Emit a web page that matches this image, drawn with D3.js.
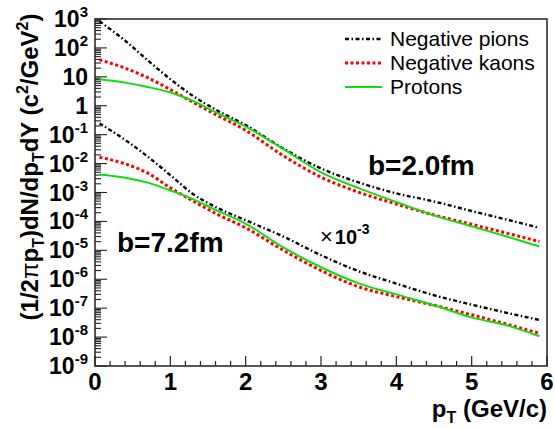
<!DOCTYPE html>
<html>
<head>
<meta charset="utf-8">
<script src="https://cdn.jsdelivr.net/npm/d3@7"></script>
<style>
  body { margin: 0; background: #fff; }
  text { font-family: "Liberation Sans", Arial, Helvetica, sans-serif; }
</style>
</head>
<body>
<div id="chart"></div>
<script>
// transverse momentum grid (GeV/c)
const pT = [0.06, 0.4, 0.7, 1.0, 1.3, 1.6, 2.0, 2.5, 3.0, 3.5, 4.0, 4.5, 5.0, 5.5, 5.9];

// b = 2.0 fm spectra
const pionsB20   = [832, 178, 37.2, 8.3, 2.19, 0.74, 0.214, 0.0331, 0.00676, 0.00224, 0.00093, 0.00049, 0.000229, 0.00011, 0.00006];
const kaonsB20   = [38.9, 20.0, 9.33, 3.63, 1.32, 0.50, 0.141, 0.0186, 0.0034, 0.00102, 0.0004, 0.000166, 0.0000794, 0.0000372, 0.00002];
const protonsB20 = [8.2, 6.3, 4.47, 2.88, 1.48, 0.60, 0.19, 0.0316, 0.005, 0.00141, 0.00047, 0.000162, 0.0000676, 0.0000282, 0.0000135];

// b = 7.2 fm spectra (drawn multiplied by 10^-3)
const pionsB72   = [245, 66, 17.4, 3.98, 0.89, 0.316, 0.11, 0.030, 0.0068, 0.0019, 0.00071, 0.00028, 0.000132, 0.000066, 0.000039];
const kaonsB72   = [16.6, 9.8, 4.7, 1.45, 0.51, 0.19, 0.060, 0.010, 0.0020, 0.00055, 0.00025, 0.000126, 0.0000589, 0.0000263, 0.0000135];
const protonsB72 = [4.17, 3.24, 2.19, 1.17, 0.59, 0.25, 0.083, 0.0126, 0.0026, 0.00072, 0.00030, 0.000126, 0.0000479, 0.000024, 0.0000107];
const peripheralScale = 1e-3;

const legendLabels = ["Negative pions", "Negative kaons", "Protons"];
const xTicks = [0, 1, 2, 3, 4, 5, 6];
const yExponents = d3.range(-9, 4);

const width = 555, height = 428;
const plotLeft = 95, plotRight = 547, plotTop = 19, plotBottom = 366;

const styles = [
    { color: "#000", dash: "4,2.5,1.5,2.5", width: 2.4 },
    { color: "#f00", dash: "3,2.5", width: 3 },
    { color: "#11dd11", dash: null, width: 2 }
];

const svg = d3.select("#chart")
    .append("svg")
    .attr("width", width)
    .attr("height", height);

const x = d3.scaleLinear().domain([0, 6]).range([plotLeft, plotRight]);
const y = d3.scaleLog().domain([1e-9, 1e3]).range([plotBottom, plotTop]);

// frame
svg.append("rect")
    .attr("x", plotLeft).attr("y", plotTop)
    .attr("width", plotRight - plotLeft).attr("height", plotBottom - plotTop)
    .attr("fill", "none").attr("stroke", "#222").attr("stroke-width", 1.5);

// x ticks
const xMinor = d3.range(0, 6.001, 0.2);
svg.append("g").selectAll("line")
    .data(xMinor)
    .enter().append("line")
    .attr("x1", d => x(d)).attr("x2", d => x(d))
    .attr("y1", plotBottom)
    .attr("y2", d => plotBottom - (Math.abs(d - Math.round(d)) < 1e-6 ? 10 : 5))
    .attr("stroke", "#222").attr("stroke-width", 1.2);

svg.append("g").selectAll("text")
    .data(xTicks)
    .enter().append("text")
    .attr("x", d => x(d)).attr("y", 390)
    .attr("text-anchor", "middle")
    .attr("font-size", 24).attr("font-weight", "bold")
    .text(d => d);

// y ticks
const yMinor = [];
yExponents.forEach(e => {
    if (e < 3) d3.range(1, 10).forEach(m => yMinor.push({ v: m * Math.pow(10, e), major: m === 1 }));
    else yMinor.push({ v: Math.pow(10, e), major: true });
});
svg.append("g").selectAll("line")
    .data(yMinor)
    .enter().append("line")
    .attr("x1", plotLeft).attr("x2", d => plotLeft + (d.major ? 12 : 6))
    .attr("y1", d => y(d.v)).attr("y2", d => y(d.v))
    .attr("stroke", "#222").attr("stroke-width", 1.1);

const yLabels = svg.append("g").selectAll("text")
    .data(yExponents)
    .enter().append("text")
    .attr("x", 88).attr("y", d => y(Math.pow(10, d)) + 8)
    .attr("text-anchor", "end")
    .attr("font-size", 23).attr("font-weight", "bold");
yLabels.each(function (e) {
    const t = d3.select(this);
    if (e === 0) { t.text("1"); return; }
    if (e === 1) { t.text("10"); return; }
    t.append("tspan").text("10");
    t.append("tspan").attr("dy", -10).attr("font-size", 15).text(e);
});

// axis titles
const yTitle = svg.append("text")
    .attr("transform", "translate(38,167) rotate(-90)")
    .attr("text-anchor", "middle")
    .attr("font-size", 24).attr("font-weight", "bold");
yTitle.append("tspan").text("(1/2");
yTitle.append("tspan").attr("font-weight", "normal").text("π");
yTitle.append("tspan").text("p");
yTitle.append("tspan").attr("dy", 6).attr("font-size", 16).text("T");
yTitle.append("tspan").attr("dy", -6).text(")dN/dp");
yTitle.append("tspan").attr("dy", 6).attr("font-size", 16).text("T");
yTitle.append("tspan").attr("dy", -6).text("dY (c");
yTitle.append("tspan").attr("dy", -10).attr("font-size", 16).text("2");
yTitle.append("tspan").attr("dy", 10).text("/GeV");
yTitle.append("tspan").attr("dy", -10).attr("font-size", 16).text("2");
yTitle.append("tspan").attr("dy", 10).text(")");

const xTitle = svg.append("text")
    .attr("x", plotRight).attr("y", 417)
    .attr("text-anchor", "end")
    .attr("font-size", 24).attr("font-weight", "bold");
xTitle.append("tspan").text("p");
xTitle.append("tspan").attr("dy", 6).attr("font-size", 16).text("T");
xTitle.append("tspan").attr("dy", -6).text(" (GeV/c)");

// curves
const line = d3.line()
    .x(d => x(d.p))
    .y(d => y(d.v))
    .curve(d3.curveMonotoneX);

const series = [
    { values: pionsB20, scale: 1, s: 0 },
    { values: kaonsB20, scale: 1, s: 1 },
    { values: protonsB20, scale: 1, s: 2 },
    { values: pionsB72, scale: peripheralScale, s: 0 },
    { values: kaonsB72, scale: peripheralScale, s: 1 },
    { values: protonsB72, scale: peripheralScale, s: 2 }
];

svg.append("g").selectAll("path")
    .data(series)
    .enter().append("path")
    .attr("d", d => line(pT.map((p, i) => ({ p, v: d.values[i] * d.scale }))))
    .attr("fill", "none")
    .attr("stroke", d => styles[d.s].color)
    .attr("stroke-width", d => styles[d.s].width)
    .attr("stroke-dasharray", d => styles[d.s].dash);

// legend
const legend = svg.append("g").selectAll("g")
    .data(legendLabels)
    .enter().append("g")
    .attr("transform", (d, i) => `translate(0,${39 + i * 24})`);
legend.append("line")
    .attr("x1", 345).attr("x2", 382)
    .attr("stroke", (d, i) => styles[i].color)
    .attr("stroke-width", (d, i) => styles[i].width)
    .attr("stroke-dasharray", (d, i) => styles[i].dash);
legend.append("text")
    .attr("x", 390).attr("dy", "0.35em")
    .attr("font-size", 21)
    .text(d => d);

// annotations
svg.append("text").attr("x", 368).attr("y", 175)
    .attr("font-size", 28).attr("font-weight", "bold").text("b=2.0fm");
svg.append("text").attr("x", 117).attr("y", 252)
    .attr("font-size", 28).attr("font-weight", "bold").text("b=7.2fm");
const scaleNote = svg.append("text").attr("x", 320).attr("y", 244).attr("font-size", 22);
scaleNote.append("tspan").text("×");
scaleNote.append("tspan").attr("dx", 2).attr("font-weight", "bold").attr("font-size", 20).text("10");
scaleNote.append("tspan").attr("dy", -10).attr("font-weight", "bold").attr("font-size", 14).text("-3");
</script>
</body>
</html>
